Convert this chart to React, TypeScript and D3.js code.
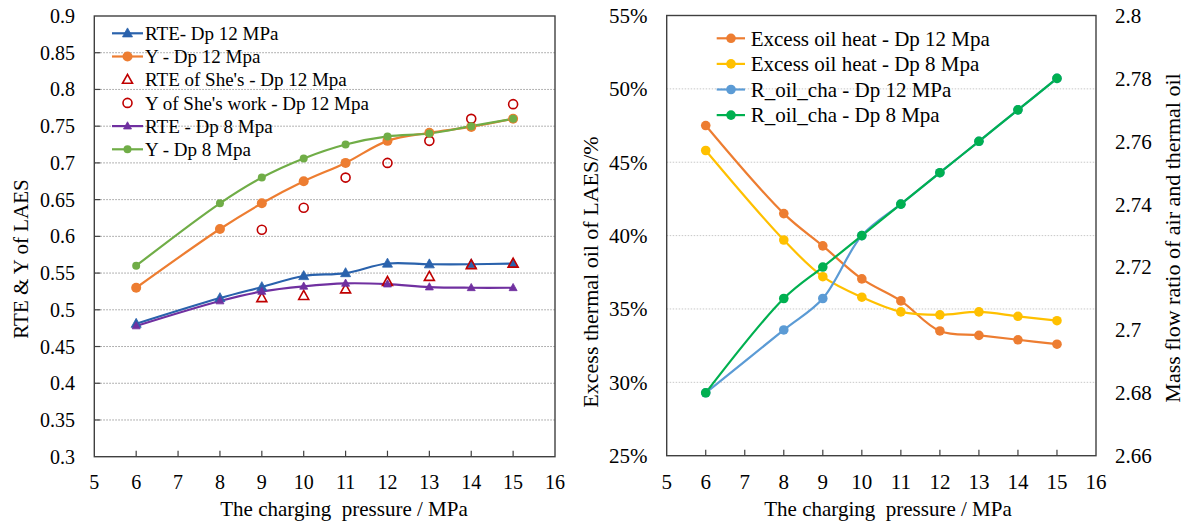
import React from "react";
import * as d3 from "d3";

// ---------- left panel: RTE and liquid yield ----------
const pressures = [6, 8, 9, 10, 11, 12, 13, 14, 15];
const rteDp12 = [0.481, 0.516, 0.531, 0.546, 0.55, 0.563, 0.562, 0.562, 0.563];
const yDp12 = [0.53, 0.61, 0.645, 0.675, 0.7, 0.73, 0.741, 0.749, 0.76];
const shePressures = [9, 10, 11, 12, 13, 14, 15];
const sheRte = [0.516, 0.519, 0.528, 0.538, 0.545, 0.561, 0.563];
const sheY = [0.609, 0.639, 0.68, 0.7, 0.73, 0.76, 0.78];
const rteDp8 = [0.478, 0.512, 0.525, 0.532, 0.536, 0.535, 0.531, 0.53, 0.53];
const yDp8 = [0.56, 0.645, 0.68, 0.706, 0.725, 0.736, 0.74, 0.75, 0.76];

const leftYTicks = [0.3, 0.35, 0.4, 0.45, 0.5, 0.55, 0.6, 0.65, 0.7, 0.75, 0.8, 0.85, 0.9];
const xTicks = [5, 6, 7, 8, 9, 10, 11, 12, 13, 14, 15, 16];

// ---------- right panel: excess oil heat and mass flow ratio ----------
const excessDp12 = [47.5, 41.5, 39.3, 37.05, 35.55, 33.5, 33.2, 32.9, 32.6];
const excessDp8 = [45.8, 39.7, 37.2, 35.8, 34.8, 34.6, 34.8, 34.5, 34.2];
const rOilDp12 = [2.68, 2.7, 2.71, 2.73, 2.74, 2.75, 2.76, 2.77, 2.78];
const rOilDp8 = [2.68, 2.71, 2.72, 2.73, 2.74, 2.75, 2.76, 2.77, 2.78];

const pctTicks = [25, 30, 35, 40, 45, 50, 55];
const ratioTicks = [2.66, 2.68, 2.7, 2.72, 2.74, 2.76, 2.78, 2.8];

const FONT = '"Liberation Serif", "Times New Roman", Times, serif';
const AXIS = "#404040";

type Pt = [number, number];

function zip(xs: number[], ys: number[]): Pt[] {
  return xs.map((x, i) => [x, ys[i]]);
}

function triPath(cx: number, cy: number, w: number) {
  const h = w * 0.9;
  return `M${cx},${cy - h * 0.6}L${cx + w / 2},${cy + h * 0.4}L${cx - w / 2},${cy + h * 0.4}Z`;
}

function Marker({ kind, x, y, color, size }: { kind: string; x: number; y: number; color: string; size: number }) {
  if (kind === "tri") return <path d={triPath(x, y, size)} fill={color} stroke={color} strokeWidth={0.8} />;
  if (kind === "otri")
    return <path d={triPath(x, y, size)} fill="none" stroke={color} strokeWidth={1.6} />;
  if (kind === "ocirc") return <circle cx={x} cy={y} r={size / 2} fill="none" stroke={color} strokeWidth={1.6} />;
  return <circle cx={x} cy={y} r={size / 2} fill={color} />;
}

type Series = {
  name: string;
  pts: Pt[];
  color: string;
  line: boolean;
  marker: string;
  size: number;
};

function LeftPanel() {
  const x = d3.scaleLinear().domain([5, 16]).range([94.3, 555]);
  const y = d3.scaleLinear().domain([0.3, 0.9]).range([456.7, 16]);
  const line = d3
    .line<Pt>()
    .x((d) => x(d[0]))
    .y((d) => y(d[1]))
    .curve(d3.curveCatmullRom.alpha(0.5));

  const series: Series[] = [
    { name: "RTE- Dp 12 MPa", pts: zip(pressures, rteDp12), color: "#2A62AC", line: true, marker: "tri", size: 10 },
    { name: "Y - Dp 12 Mpa", pts: zip(pressures, yDp12), color: "#ED7D31", line: true, marker: "circ", size: 10 },
    { name: "RTE of She's - Dp 12 Mpa", pts: zip(shePressures, sheRte), color: "#C00000", line: false, marker: "otri", size: 10 },
    { name: "Y of She's work - Dp 12 Mpa", pts: zip(shePressures, sheY), color: "#C00000", line: false, marker: "ocirc", size: 9 },
    { name: "RTE - Dp 8 Mpa", pts: zip(pressures, rteDp8), color: "#7030A0", line: true, marker: "tri", size: 8 },
    { name: "Y - Dp 8 Mpa", pts: zip(pressures, yDp8), color: "#70AD47", line: true, marker: "circ", size: 8 },
  ];

  const [x0, x1] = x.range();
  const [yb, yt] = y.range();

  return (
    <g fill="#000">
      {leftYTicks.slice(1, -1).map((t) => (
        <line key={t} x1={x0} x2={x1} y1={y(t)} y2={y(t)} stroke="#9a9a9a" strokeWidth={1} strokeDasharray="1.5,1.5" />
      ))}
      {series.map((s) =>
        s.line ? (
          <path key={s.name} d={line(s.pts) || ""} fill="none" stroke={s.color} strokeWidth={2.2} />
        ) : null
      )}
      {series.map((s) =>
        s.pts.map((p, i) => (
          <Marker key={s.name + i} kind={s.marker} x={x(p[0])} y={y(p[1])} color={s.color} size={s.size} />
        ))
      )}
      <rect x={x0} y={yt} width={x1 - x0} height={yb - yt} fill="none" stroke={AXIS} strokeWidth={1.4} />
      {xTicks.slice(1, -1).map((t) => (
        <line key={t} x1={x(t)} x2={x(t)} y1={yb} y2={yb - 6} stroke={AXIS} strokeWidth={1.2} />
      ))}
      {leftYTicks.slice(1, -1).map((t) => (
        <line key={t} x1={x0} x2={x0 + 6} y1={y(t)} y2={y(t)} stroke={AXIS} strokeWidth={1.2} />
      ))}
      {xTicks.map((t) => (
        <text key={t} x={x(t)} y={481.7} dy="0.35em" textAnchor="middle" fontSize={20}>
          {t}
        </text>
      ))}
      {leftYTicks.map((t) => (
        <text key={t} x={75} y={y(t)} dy="0.35em" textAnchor="end" fontSize={20}>
          {d3.format("~g")(t)}
        </text>
      ))}
      <text x={344} y={516} textAnchor="middle" fontSize={21} style={{ whiteSpace: "pre" }}>
        The charging  pressure / MPa
      </text>
      <text transform="translate(28,259) rotate(-90)" textAnchor="middle" fontSize={21}>
        RTE &amp; Y of LAES
      </text>
      {series.map((s, i) => {
        const ly = 33.3 + i * 23.2;
        return (
          <g key={s.name}>
            {s.line && <line x1={112} x2={143} y1={ly} y2={ly} stroke={s.color} strokeWidth={2.2} />}
            <Marker kind={s.marker} x={127.5} y={ly} color={s.color} size={s.size} />
            <text x={145} y={ly} dy="0.35em" fontSize={19}>
              {s.name}
            </text>
          </g>
        );
      })}
    </g>
  );
}

function RightPanel() {
  const x = d3.scaleLinear().domain([5, 16]).range([666.7, 1096]);
  const yL = d3.scaleLinear().domain([25, 55]).range([455.7, 15.5]);
  const yR = d3.scaleLinear().domain([2.66, 2.8]).range([455.7, 15.5]);
  const mk = (ys: (v: number) => number) =>
    d3
      .line<Pt>()
      .x((d) => x(d[0]))
      .y((d) => ys(d[1]))
      .curve(d3.curveCatmullRom.alpha(0.5));

  const series = [
    { name: "Excess oil heat - Dp 12 Mpa", pts: zip(pressures, excessDp12), color: "#ED7D31", scale: yL },
    { name: "Excess oil heat - Dp 8 Mpa", pts: zip(pressures, excessDp8), color: "#FFC000", scale: yL },
    { name: "R_oil_cha - Dp 12 MPa", pts: zip(pressures, rOilDp12), color: "#5B9BD5", scale: yR },
    { name: "R_oil_cha - Dp 8 Mpa", pts: zip(pressures, rOilDp8), color: "#00B050", scale: yR },
  ];

  const [x0, x1] = x.range();
  const [yb, yt] = yL.range();

  return (
    <g fill="#000">
      {pctTicks.slice(1, -1).map((t) => (
        <line key={t} x1={x0} x2={x1} y1={yL(t)} y2={yL(t)} stroke="#c8c8c8" strokeWidth={1} strokeDasharray="1.5,1.5" />
      ))}
      {series.map((s) => (
        <path key={s.name} d={mk(s.scale)(s.pts) || ""} fill="none" stroke={s.color} strokeWidth={2.2} />
      ))}
      {series.map((s) =>
        s.pts.map((p, i) => <circle key={s.name + i} cx={x(p[0])} cy={s.scale(p[1])} r={4.8} fill={s.color} />)
      )}
      <rect x={x0} y={yt} width={x1 - x0} height={yb - yt} fill="none" stroke={AXIS} strokeWidth={1.4} />
      {xTicks.slice(1, -1).map((t) => (
        <line key={t} x1={x(t)} x2={x(t)} y1={yb} y2={yb - 6} stroke={AXIS} strokeWidth={1.2} />
      ))}
      {xTicks.map((t) => (
        <text key={t} x={x(t)} y={481.7} dy="0.35em" textAnchor="middle" fontSize={21}>
          {t}
        </text>
      ))}
      {pctTicks.map((t) => (
        <text key={t} x={647.5} y={yL(t)} dy="0.35em" textAnchor="end" fontSize={21}>
          {t}%
        </text>
      ))}
      {ratioTicks.map((t) => (
        <text key={t} x={1115} y={yR(t)} dy="0.35em" textAnchor="start" fontSize={21}>
          {d3.format("~g")(t)}
        </text>
      ))}
      <text x={888} y={516} textAnchor="middle" fontSize={21} style={{ whiteSpace: "pre" }}>
        The charging  pressure / MPa
      </text>
      <text transform="translate(598,272) rotate(-90)" textAnchor="middle" fontSize={22}>
        Excess thermal  oil of LAES/%
      </text>
      <text transform="translate(1180,238) rotate(-90)" textAnchor="middle" fontSize={22}>
        Mass flow ratio of air and thermal oil
      </text>
      {series.map((s, i) => {
        const ly = 38.3 + i * 25.6;
        return (
          <g key={s.name}>
            <line x1={716.7} x2={745} y1={ly} y2={ly} stroke={s.color} strokeWidth={2.2} />
            <circle cx={731} cy={ly} r={4.8} fill={s.color} />
            <text x={750.7} y={ly} dy="0.35em" fontSize={21}>
              {s.name}
            </text>
          </g>
        );
      })}
    </g>
  );
}

export default function App() {
  return (
    <svg
      width={1188}
      height={524}
      viewBox="0 0 1188 524"
      style={{ position: "absolute", left: 0, top: 0, background: "#fff", fontFamily: FONT }}
    >
      <rect width={1188} height={524} fill="#fff" />
      <LeftPanel />
      <RightPanel />
    </svg>
  );
}
